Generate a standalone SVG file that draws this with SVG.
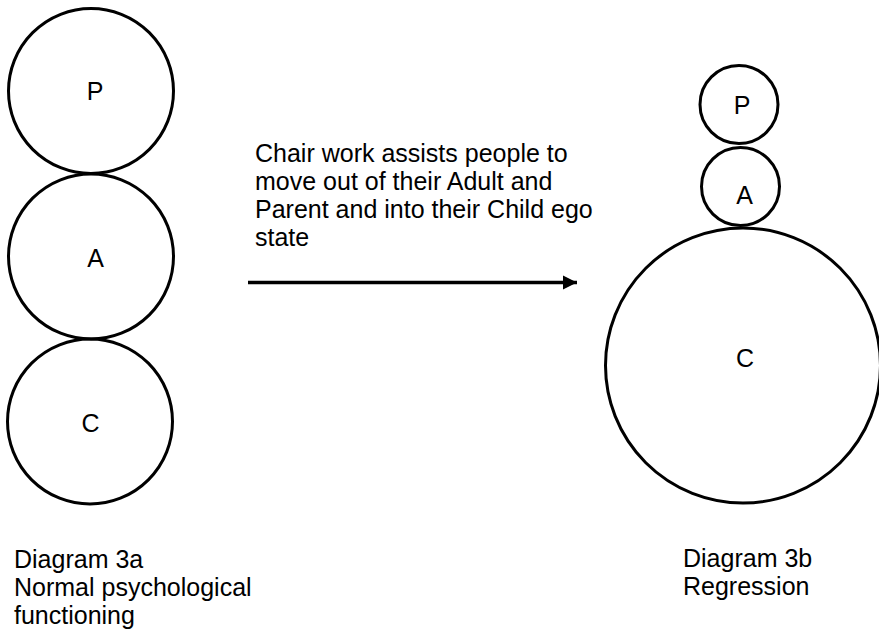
<svg xmlns="http://www.w3.org/2000/svg" width="879" height="631" viewBox="0 0 879 631">
<style>
.c{fill:none;stroke:#000;stroke-width:3}
.t{font-family:"Liberation Sans",Arial,sans-serif;font-size:25px;fill:#000}
.m{text-anchor:middle}
</style>
<defs>
<marker id="ah" markerUnits="userSpaceOnUse" markerWidth="15" markerHeight="15" refX="14" refY="7.5" orient="auto">
<path d="M0,0.5 L14,7.5 L0,14.5 Z" fill="#000"/>
</marker>
</defs>
<rect width="879" height="631" fill="#fff"/>
<g id="left-P"><circle class="c" cx="91" cy="91" r="82.5"/><text class="t m" x="95" y="100">P</text></g>
<g id="left-A"><circle class="c" cx="91" cy="256.5" r="82.5"/><text class="t m" x="95.5" y="267">A</text></g>
<g id="left-C"><circle class="c" cx="90" cy="421.5" r="82.5"/><text class="t m" x="90.5" y="432">C</text></g>
<g id="right-P"><circle class="c" cx="739" cy="104.5" r="39"/><text class="t m" x="742" y="114">P</text></g>
<g id="right-A"><circle class="c" cx="740.5" cy="186.5" r="39"/><text class="t m" x="744.5" y="204">A</text></g>
<g id="right-C"><circle class="c" cx="743" cy="365.5" r="137.5"/><text class="t m" x="745" y="367">C</text></g>
<g id="caption">
<text class="t" x="255" y="162">Chair work assists people to</text>
<text class="t" x="255" y="190">move out of their Adult and</text>
<text class="t" x="255" y="218">Parent and into their Child ego</text>
<text class="t" x="255" y="246">state</text>
</g>
<g id="connectors">
<line x1="248" y1="282.5" x2="577" y2="282.5" stroke="#000" stroke-width="3.5" marker-end="url(#ah)"/>
</g>
<g id="label-3a">
<text class="t" x="14" y="568">Diagram 3a</text>
<text class="t" x="14" y="596">Normal psychological</text>
<text class="t" x="14" y="624">functioning</text>
</g>
<g id="label-3b">
<text class="t" x="683" y="567">Diagram 3b</text>
<text class="t" x="683" y="595">Regression</text>
</g>
</svg>
